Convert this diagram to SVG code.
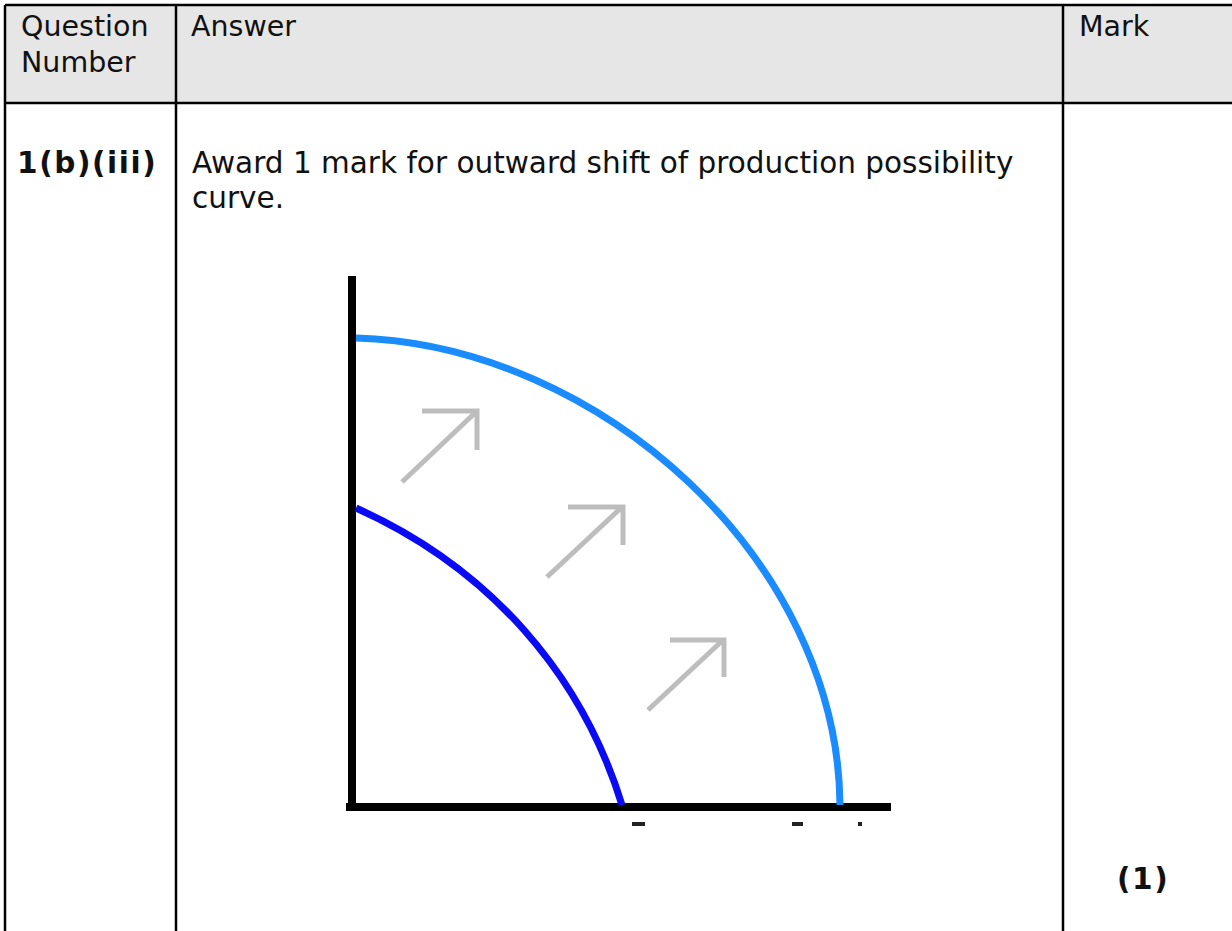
<svg xmlns="http://www.w3.org/2000/svg" width="1232" height="931" viewBox="0 0 1232 931">
<style>
.t{font-family:"DejaVu Sans","Verdana",sans-serif;font-size:28.5px;fill:#111}
.r{font-size:29.5px}
.b{font-weight:bold;letter-spacing:1.6px}
.grid{stroke:#000;stroke-width:2.5;fill:none}
.ax{stroke:#000;stroke-width:8;fill:none}
.arr{stroke:#bdbdbd;stroke-width:5;fill:none}
</style>
<g id="table">
<rect x="5" y="5" width="1240" height="98" fill="#e6e6e6"/>
<line class="grid" x1="5" y1="5" x2="1232" y2="5"/>
<line class="grid" x1="5" y1="103" x2="1232" y2="103"/>
<line class="grid" x1="5" y1="5" x2="5" y2="931"/>
<line class="grid" x1="176" y1="5" x2="176" y2="931"/>
<line class="grid" x1="1063" y1="5" x2="1063" y2="931"/>
</g>
<g id="header">
<text class="t" x="21" y="36">Question</text>
<text class="t" x="21" y="72">Number</text>
<text class="t" x="191" y="36">Answer</text>
<text class="t" x="1079" y="36">Mark</text>
</g>
<g id="row">
<text class="t r b" x="17" y="173">1(b)(iii)</text>
<text class="t r" x="192" y="173">Award 1 mark for outward shift of production possibility</text>
<text class="t r" x="192" y="208">curve.</text>
<text class="t r b" x="1117" y="889">(1)</text>
</g>
<g id="chart">
<line class="ax" x1="352" y1="276" x2="352" y2="811"/>
<line class="ax" x1="346" y1="807" x2="891" y2="807"/>
<path d="M356,338 C600,345 838,560 840,805" fill="none" stroke="#1a8cff" stroke-width="7"/>
<path d="M356,508 C490,568 582,675 622,805" fill="none" stroke="#0a0af5" stroke-width="7"/>
<g id="arrows">
<path class="arr" d="M402,482 L477,411 M422,411 L477,411 L477,450"/>
<path class="arr" d="M547,577 L622,507 M568,507 L623,507 L623,545"/>
<path class="arr" d="M648,710 L723,640 M670,640 L724,640 L724,677"/>
</g>
<rect x="632" y="822" width="13" height="4" fill="#222"/>
<rect x="792" y="822" width="11" height="4" fill="#222"/>
<rect x="858" y="822" width="4" height="4" fill="#222"/>
</g>
</svg>
